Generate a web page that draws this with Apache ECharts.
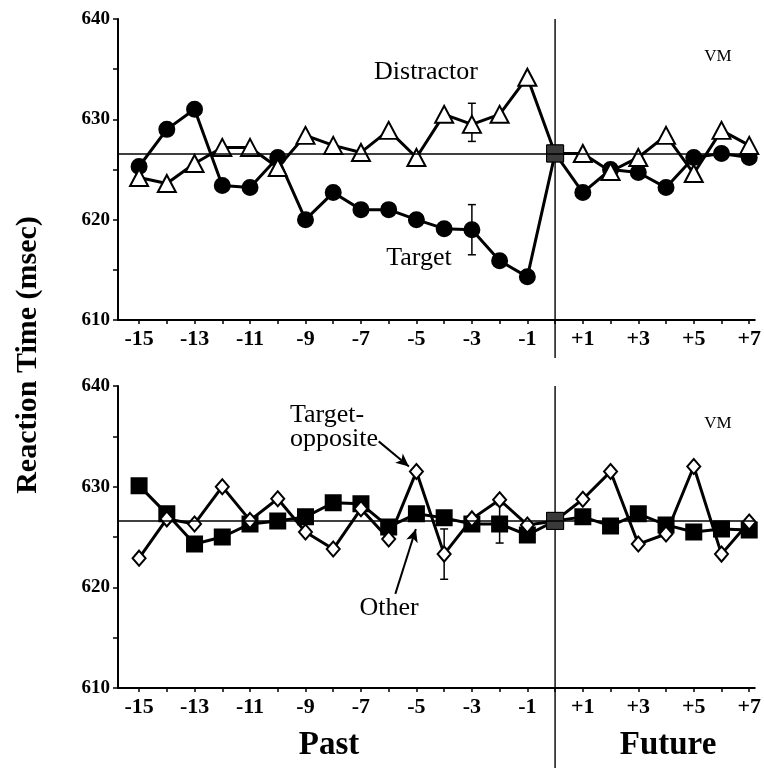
<!DOCTYPE html>
<html>
<head>
<meta charset="utf-8">
<script src="https://cdn.jsdelivr.net/npm/echarts@6/dist/echarts.min.js"></script>
<style>
html, body { margin: 0; padding: 0; background: #fff; }
#chart { width: 764px; height: 768px; }
</style>
</head>
<body>
<div id="chart"></div>
<script>
// trial lag, -15 .. +7 (0 = current trial)
var lags = [-15, -14, -13, -12, -11, -10, -9, -8, -7, -6, -5, -4, -3, -2, -1, 0, 1, 2, 3, 4, 5, 6, 7];
var tickLags = [-15, -14, -13, -12, -11, -10, -9, -8, -7, -6, -5, -4, -3, -2, -1, 0, 1, 2, 3, 4, 5, 6, 7];
var labelLags = [-15, -13, -11, -9, -7, -5, -3, -1, 1, 3, 5, 7];
var yTicks = [610, 620, 630, 640];
var meanRT = 626.6;

// top panel
var target = [625.3, 629.0, 631.0, 623.4, 623.2, 626.2, 620.0, 622.7, 621.0, 621.0, 620.0, 619.1, 619.0, 615.9, 614.3, 626.6, 622.7, 625.0, 624.7, 623.2, 626.2, 626.6, 626.2];
var distractor = [624.2, 623.6, 625.6, 627.2, 627.2, 625.2, 628.4, 627.4, 626.7, 628.9, 626.2, 630.5, 629.5, 630.5, 634.2, 626.6, 626.6, 624.8, 626.2, 628.4, 624.6, 628.9, 627.4];
var topErr = [[-3, 616.5, 621.5], [-3, 627.8, 631.6]];

// bottom panel
var other = [630.1, 627.3, 624.3, 625.0, 626.3, 626.6, 627.0, 628.4, 628.3, 626.0, 627.3, 626.9, 626.3, 626.3, 625.2, 626.6, 627.0, 626.1, 627.3, 626.2, 625.5, 625.8, 625.7];
var targetOpp = [622.9, 626.8, 626.3, 630.0, 626.65, 628.8, 625.5, 623.8, 627.8, 624.8, 631.5, 623.3, 626.8, 628.7, 626.2, 626.6, 628.75, 631.5, 624.3, 625.3, 632.0, 623.3, 626.5];
var bottomErr = [[-4, 620.8, 625.8], [-2, 624.4, 628.2]];

var serif = 'Liberation Serif, Times New Roman, serif';

function pts(arr) {
    return lags.map(function (x, i) {
        if (x === 0) {
            return {
                value: [x, arr[i]],
                symbol: 'rect',
                symbolSize: 17,
                itemStyle: {color: '#3a3a3a', borderColor: '#000', borderWidth: 1}
            };
        }
        return [x, arr[i]];
    });
}

function xAxisOf(idx) {
    return {
        type: 'value',
        gridIndex: idx,
        min: -15.76,
        max: 7.2,
        splitLine: {show: false},
        axisLine: {onZero: false, lineStyle: {color: '#000', width: 2}},
        axisTick: {
            show: true, inside: false, length: 4,
            customValues: tickLags,
            lineStyle: {color: '#000', width: 1.5}
        },
        axisLabel: {
            customValues: labelLags,
            margin: 8,
            color: '#000',
            fontFamily: serif,
            fontWeight: 'bold',
            fontSize: 22,
            formatter: function (v) { return v > 0 ? '+' + v : String(v); }
        }
    };
}

function yAxisOf(idx) {
    return {
        type: 'value',
        gridIndex: idx,
        min: 610,
        max: 640,
        interval: 5,
        splitLine: {show: false},
        axisLine: {show: true, onZero: false, lineStyle: {color: '#000', width: 2}},
        axisTick: {show: true, length: 5, lineStyle: {color: '#000', width: 1.5}},
        axisLabel: {
            margin: 8,
            color: '#000',
            fontFamily: serif,
            fontWeight: 'bold',
            fontSize: 19,
            formatter: function (v) { return yTicks.indexOf(v) >= 0 ? String(v) : ''; }
        }
    };
}

function lineSeries(name, idx, arr, symbol, size, fill, z) {
    return {
        name: name,
        type: 'line',
        xAxisIndex: idx,
        yAxisIndex: idx,
        data: pts(arr),
        symbol: symbol,
        symbolSize: size,
        showAllSymbol: true,
        z: z,
        lineStyle: {color: '#000', width: 3},
        itemStyle: {color: fill, borderColor: '#000', borderWidth: 2, opacity: 1},
        emphasis: {disabled: true},
        animation: false
    };
}

function errSeries(idx, data) {
    return {
        type: 'custom',
        xAxisIndex: idx,
        yAxisIndex: idx,
        data: data,
        z: 1,
        silent: true,
        renderItem: function (params, api) {
            var lo = api.coord([api.value(0), api.value(1)]);
            var hi = api.coord([api.value(0), api.value(2)]);
            var st = {stroke: '#000', lineWidth: 1.5};
            return {
                type: 'group',
                children: [
                    {type: 'line', shape: {x1: lo[0], y1: lo[1], x2: hi[0], y2: hi[1]}, style: st},
                    {type: 'line', shape: {x1: lo[0] - 4, y1: lo[1], x2: lo[0] + 4, y2: lo[1]}, style: st},
                    {type: 'line', shape: {x1: hi[0] - 4, y1: hi[1], x2: hi[0] + 4, y2: hi[1]}, style: st}
                ]
            };
        }
    };
}

function meanLine() {
    return {
        silent: true,
        symbol: 'none',
        label: {show: false},
        lineStyle: {color: '#000', width: 1.5, type: 'solid'},
        data: [{yAxis: meanRT}]
    };
}

var myChart = echarts.init(document.getElementById('chart'));

var s1 = lineSeries('Target', 0, target, 'circle', 15, '#000', 3);
s1.markLine = meanLine();
var s2 = lineSeries('Distractor', 0, distractor, 'triangle', [18, 17], '#fff', 4);
var s3 = lineSeries('Other', 1, other, 'rect', 15, '#000', 3);
s3.markLine = meanLine();
var s4 = lineSeries('Target-opposite', 1, targetOpp, 'diamond', [13, 15], '#fff', 4);
s4.markLine = {
    silent: true,
    symbol: ['none', 'arrow'],
    symbolSize: [9, 13],
    label: {show: false},
    lineStyle: {color: '#000', width: 2, type: 'solid'},
    data: [
        [{coord: [-6.36, 634.5]}, {coord: [-5.27, 632.0]}],
        [{coord: [-5.76, 619.35]}, {coord: [-5.02, 625.8]}]
    ]
};

function txt(t, x, y, size, weight, align) {
    return {
        type: 'text', x: x, y: y, silent: true,
        style: {
            text: t, fill: '#000', fontFamily: serif, fontSize: size,
            fontWeight: weight || 'normal', align: align || 'center', verticalAlign: 'middle'
        }
    };
}

var option = {
    backgroundColor: '#fff',
    animation: false,
    grid: [
        {left: 118, top: 19, width: 640, height: 301},
        {left: 118, top: 386, width: 640, height: 302}
    ],
    xAxis: [xAxisOf(0), xAxisOf(1)],
    yAxis: [yAxisOf(0), yAxisOf(1)],
    series: [s1, s2, errSeries(0, topErr), s3, s4, errSeries(1, bottomErr)],
    graphic: [
        {
            type: 'text', x: 28, y: 355, rotation: Math.PI / 2, silent: true,
            style: {
                text: 'Reaction Time (msec)', fill: '#000', fontFamily: serif,
                fontSize: 30, fontWeight: 'bold', align: 'center', verticalAlign: 'middle'
            }
        },
        txt('Distractor', 426, 72, 26),
        txt('Target', 419, 258, 26),
        txt('VM', 718, 57, 17),
        txt('Target-', 290, 415, 26, 'normal', 'left'),
        txt('opposite', 290, 439.5, 26, 'normal', 'left'),
        txt('Other', 389, 608, 26),
        txt('VM', 718, 424, 17),
        txt('Past', 329, 745, 33, 'bold'),
        txt('Future', 668, 745, 33, 'bold')
    ]
};

myChart.setOption(option);

// lag-0 separator, running past the axes
var x0 = myChart.convertToPixel({xAxisIndex: 0}, 0);
var yTop1 = myChart.convertToPixel({yAxisIndex: 0}, 640);
var yTop2 = myChart.convertToPixel({yAxisIndex: 1}, 640);
option.graphic.push(
    {type: 'line', silent: true, z: 0, shape: {x1: x0, y1: yTop1, x2: x0, y2: 358}, style: {stroke: '#111', lineWidth: 1.5}},
    {type: 'line', silent: true, z: 0, shape: {x1: x0, y1: yTop2, x2: x0, y2: 768}, style: {stroke: '#111', lineWidth: 1.5}}
);
myChart.setOption({graphic: option.graphic});

window.addEventListener('resize', function () {
    myChart.resize();
});
</script>
</body>
</html>
